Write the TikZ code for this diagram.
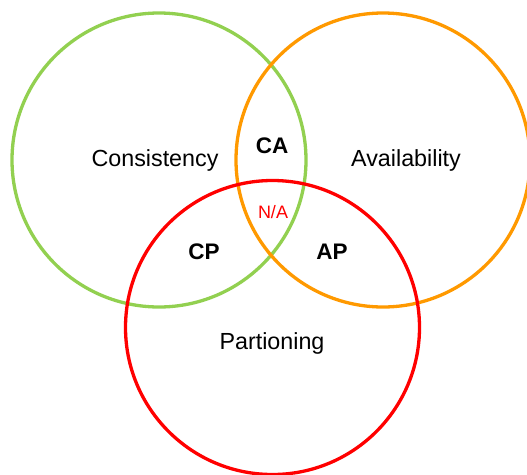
\documentclass[tikz,border=0pt]{standalone}
\usepackage{fontspec}
\setmainfont{Liberation Sans}
\definecolor{cgreen}{RGB}{146,208,80}
\definecolor{corange}{RGB}{255,153,0}
\definecolor{cred}{RGB}{255,0,0}
\begin{document}
\begin{tikzpicture}[x=1pt,y=-1pt,
  ring/.style={circle,draw,line width=3.3pt,inner sep=0pt,minimum size=294pt},
  lbl/.style={font=\fontsize{23.3}{25}\selectfont,inner sep=0pt},
  blbl/.style={font=\fontsize{22.5}{24}\selectfont\bfseries,inner sep=0pt},
  nlbl/.style={font=\fontsize{18}{20}\selectfont,text=cred,inner sep=0pt}]
\useasboundingbox (0,0) rectangle (527,474);
\clip (0,0) rectangle (527,474);
\node[ring,draw=cgreen] (green) at (159,160) {};
\node[ring,draw=corange] (orange) at (383,160) {};
\node[ring,draw=cred] (red) at (272.5,327.5) {};
\node[lbl] (cons) at (155,160.5) {Consistency};
\node[lbl] (avail) at (406,160.5) {Availability};
\node[lbl] (part) at (272,343) {Partioning};
\node[blbl] (ca) at (272,146) {CA};
\node[blbl] (cp) at (204,252) {CP};
\node[blbl] (ap) at (332,252) {AP};
\node[nlbl] (na) at (273,212) {N/A};
\end{tikzpicture}
\end{document}
